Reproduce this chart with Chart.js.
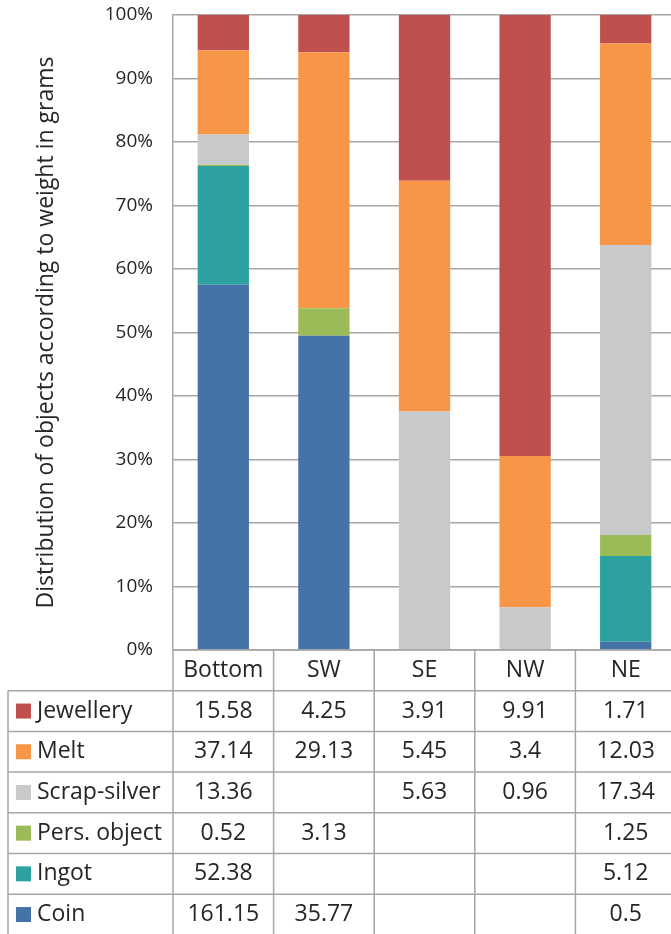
<!DOCTYPE html>
<html>
<head>
<meta charset="utf-8">
<script src="https://cdn.jsdelivr.net/npm/chart.js@4/dist/chart.umd.min.js"></script>
<style>
  html, body { margin: 0; padding: 0; background: #fff; overflow: hidden; }
  #wrap { width: 680px; height: 934px; }
</style>
</head>
<body>
<div id="wrap"><canvas id="grafica"></canvas></div>
<script>
// weights in grams per find area
var zonas = ["Bottom", "SW", "SE", "NW", "NE"];
var jewellery = [15.58, 4.25, 3.91, 9.91, 1.71];
var melt = [37.14, 29.13, 5.45, 3.4, 12.03];
var scrapSilver = [13.36, null, 5.63, 0.96, 17.34];
var persObject = [0.52, 3.13, null, null, 1.25];
var ingot = [52.38, null, null, null, 5.12];
var coin = [161.15, 35.77, null, null, 0.5];
var yTicks = [0, 10, 20, 30, 40, 50, 60, 70, 80, 90, 100];

// rows of the table, top to bottom
var filas = [
  { label: "Jewellery", datos: jewellery, color: "#c0504d" },
  { label: "Melt", datos: melt, color: "#f79646" },
  { label: "Scrap-silver", datos: scrapSilver, color: "#c8c9cb" },
  { label: "Pers. object", datos: persObject, color: "#9bbb59" },
  { label: "Ingot", datos: ingot, color: "#2ca19f" },
  { label: "Coin", datos: coin, color: "#4573a8" }
];

var totales = zonas.map(function(z, i) {
  return filas.reduce(function(acc, f) { return acc + (f.datos[i] || 0); }, 0);
});

// stacked bottom-up: Coin first
var datasets = filas.slice().reverse().map(function(f) {
  return {
    label: f.label,
    data: f.datos.map(function(v, i) { return v ? (v / totales[i]) * 100 : 0; }),
    backgroundColor: f.color,
    borderWidth: 0,
    barPercentage: 0.51,
    categoryPercentage: 1
  };
});

var FUENTE = "'Open Sans', 'Liberation Sans', sans-serif";
var colorTexto = "#262626";
var colorLinea = "#a6a6a6";
var altoFila = 40.7;

// draws the data table under the plot, aligned to the x scale
var tablaPlugin = {
  id: "tabla",
  afterDraw: function(chart) {
    var ctx = chart.ctx;
    var x = chart.scales.x;
    var area = chart.chartArea;
    var paso = x.getPixelForValue(1) - x.getPixelForValue(0);
    var izq = 8;
    var top = area.bottom;
    var bordes = zonas.map(function(z, i) { return x.getPixelForValue(i) - paso / 2; });
    bordes.push(x.getPixelForValue(zonas.length - 1) + paso / 2);

    ctx.save();
    ctx.strokeStyle = colorLinea;
    ctx.lineWidth = 1.5;
    ctx.beginPath();
    // header row
    ctx.moveTo(area.left, top); ctx.lineTo(bordes[bordes.length - 1], top);
    for (var r = 1; r <= filas.length + 1; r++) {
      var y = top + r * altoFila;
      ctx.moveTo(izq, y); ctx.lineTo(bordes[bordes.length - 1], y);
    }
    bordes.forEach(function(b) {
      ctx.moveTo(b, top); ctx.lineTo(b, top + (filas.length + 1) * altoFila);
    });
    ctx.moveTo(izq, top + altoFila); ctx.lineTo(izq, top + (filas.length + 1) * altoFila);
    ctx.stroke();

    ctx.font = "23px " + FUENTE;
    ctx.fillStyle = colorTexto;
    ctx.textBaseline = "middle";
    ctx.textAlign = "center";
    zonas.forEach(function(z, i) {
      ctx.fillText(z, x.getPixelForValue(i), top + altoFila / 2);
    });

    filas.forEach(function(f, r) {
      var yc = top + (r + 1.5) * altoFila;
      ctx.fillStyle = f.color;
      ctx.fillRect(16, yc - 7.5, 15, 15);
      ctx.fillStyle = colorTexto;
      ctx.textAlign = "left";
      ctx.fillText(f.label, 37, yc);
      ctx.textAlign = "center";
      f.datos.forEach(function(v, i) {
        if (v !== null) ctx.fillText(String(v), x.getPixelForValue(i), yc);
      });
    });
    ctx.restore();
  }
};

var canvas = document.getElementById("grafica");
new Chart(canvas, {
  type: "bar",
  data: { labels: zonas, datasets: datasets },
  plugins: [tablaPlugin],
  options: {
    responsive: true,
    maintainAspectRatio: false,
    animation: false,
    layout: { padding: { top: 15, right: 4, bottom: 284, left: 0 } },
    plugins: {
      legend: { display: false },
      tooltip: { enabled: false }
    },
    scales: {
      x: {
        stacked: true,
        display: false
      },
      y: {
        stacked: true,
        min: 0,
        max: 100,
        afterFit: function(scale) {
          scale.width = 173;
          scale.paddingTop = 0;
          scale.paddingBottom = 0;
        },
        afterBuildTicks: function(scale) {
          scale.ticks = yTicks.map(function(v) { return { value: v }; });
        },
        ticks: {
          padding: 20,
          color: colorTexto,
          font: { family: FUENTE, size: 19 },
          callback: function(v) { return v + "%"; }
        },
        grid: { color: colorLinea, lineWidth: 1.5, drawTicks: false },
        border: { color: colorLinea, width: 1.5 },
        title: {
          display: true,
          text: "Distribution of objects according to weight in grams",
          color: colorTexto,
          font: { family: FUENTE, size: 23 },
          padding: { top: 33, bottom: 0 }
        }
      }
    }
  }
});
</script>
</body>
</html>
